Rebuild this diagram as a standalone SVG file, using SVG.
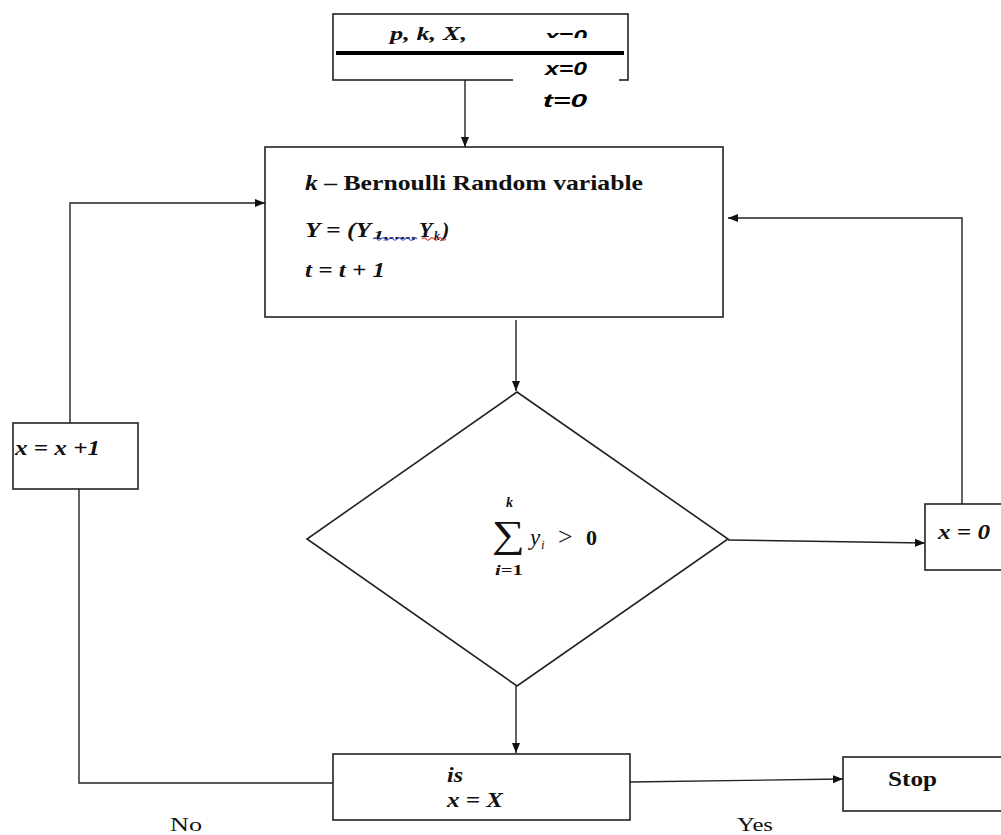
<svg xmlns="http://www.w3.org/2000/svg" width="1001" height="835" viewBox="0 0 1001 835">
<style>
.box{fill:#fff;stroke:#222;stroke-width:1.6}
.ln{fill:none;stroke:#222;stroke-width:1.4}
.ser{font-family:"Liberation Serif",serif;fill:#111}
.sb{font-family:"Liberation Serif",serif;font-weight:bold;fill:#111}
.sbi{font-family:"Liberation Serif",serif;font-weight:bold;font-style:italic;fill:#111}
.cal{font-family:"Liberation Sans",sans-serif;font-weight:bold;font-style:italic;fill:#000}
</style>
<defs>
<marker id="ah" viewBox="0 0 10 10" refX="10" refY="5" markerWidth="10" markerHeight="10" markerUnits="userSpaceOnUse" orient="auto">
<path d="M0,1 L10,5 L0,9 Z" fill="#111"/>
</marker>
<clipPath id="topclip"><rect x="500" y="20" width="120" height="18"/></clipPath>
</defs>
<rect width="1001" height="835" fill="#fff"/>

<g id="connectors">
<path class="ln" d="M465,80 V147" marker-end="url(#ah)"/>
<path class="ln" d="M516,320 V391" marker-end="url(#ah)"/>
<path class="ln" d="M516,686 V753" marker-end="url(#ah)"/>
<path class="ln" d="M728,540 L925,543" marker-end="url(#ah)"/>
<path class="ln" d="M962,504 V218 H728" marker-end="url(#ah)"/>
<path class="ln" d="M70,423 V203 H265" marker-end="url(#ah)"/>
<path class="ln" d="M79,489 V783 H333"/>
<path class="ln" d="M630,782 L843,779" marker-end="url(#ah)"/>
<text class="ser" x="170" y="831" font-size="18" textLength="32" lengthAdjust="spacingAndGlyphs">No</text>
<text class="ser" x="737" y="831" font-size="18" textLength="36" lengthAdjust="spacingAndGlyphs">Yes</text>
</g>

<g id="start">
<rect class="box" x="333" y="14" width="295" height="66"/>
<line x1="336" y1="53" x2="624" y2="53" stroke="#000" stroke-width="4"/>
<text class="sbi" x="390" y="40" font-size="18" textLength="77" lengthAdjust="spacingAndGlyphs">p, k, X,</text>
<text class="cal" x="545" y="43" font-size="19" textLength="42" lengthAdjust="spacingAndGlyphs" clip-path="url(#topclip)">x=0</text>
<rect x="513" y="78" width="106" height="4" fill="#fff"/>
<text class="cal" x="545" y="75" font-size="19" textLength="42" lengthAdjust="spacingAndGlyphs">x=0</text>
<text class="cal" x="543" y="107" font-size="19" textLength="44" lengthAdjust="spacingAndGlyphs">t=0</text>
</g>

<g id="process">
<rect class="box" x="265" y="147" width="458" height="170"/>
<text class="sb" x="305" y="190" font-size="22" textLength="338" lengthAdjust="spacingAndGlyphs"><tspan font-style="italic">k</tspan> – Bernoulli Random variable</text>
<text class="sbi" x="305" y="237" font-size="22" textLength="66" lengthAdjust="spacingAndGlyphs">Y = (Y</text>
<text class="sbi" x="373" y="239" font-size="12" textLength="44" lengthAdjust="spacingAndGlyphs">1,....,</text>
<text class="sbi" x="419" y="237" font-size="22">Y</text>
<text class="sbi" x="434" y="240" font-size="12">k</text>
<text class="sbi" x="442" y="237" font-size="22">)</text>
<path d="M373,239 q2,-2.4 4,0 t4,0 t4,0 t4,0 t4,0 t4,0 t4,0 t4,0 t4,0 t4,0 t4,0" fill="none" stroke="#2a45d6" stroke-width="1.1"/>
<path d="M422,239 q2,-2.4 4,0 t4,0 t4,0 t4,0 t4,0 t4,0" fill="none" stroke="#d82020" stroke-width="1.1"/>
<text class="sbi" x="305" y="277" font-size="22" textLength="80" lengthAdjust="spacingAndGlyphs">t = t + 1</text>
</g>

<g id="decision">
<polygon class="box" points="517,392 728,539 517,686 307,539"/>
<text class="ser" x="492" y="547" font-size="38" textLength="33" lengthAdjust="spacingAndGlyphs">∑</text>
<text class="sbi" x="506" y="507" font-size="14">k</text>
<text class="sb" x="495" y="575" font-size="14" textLength="28" lengthAdjust="spacingAndGlyphs"><tspan font-style="italic">i</tspan>=1</text>
<text class="ser" x="530" y="545" font-size="23" font-style="italic">y</text>
<text class="ser" x="541" y="549" font-size="13" font-style="italic">i</text>
<text class="ser" x="558" y="545" font-size="26">&gt;</text>
<text class="sb" x="586" y="545" font-size="22">0</text>
</g>

<g id="reset">
<rect class="box" x="925" y="504" width="90" height="66"/>
<text class="sbi" x="938" y="539" font-size="20" textLength="52" lengthAdjust="spacingAndGlyphs">x = 0</text>
</g>

<g id="increment">
<rect class="box" x="13" y="423" width="125" height="66"/>
<text class="sbi" x="15" y="455" font-size="21" textLength="85" lengthAdjust="spacingAndGlyphs">x = x +1</text>
</g>

<g id="check">
<rect class="box" x="333" y="754" width="297" height="66"/>
<text class="sbi" x="447" y="782" font-size="20" textLength="16" lengthAdjust="spacingAndGlyphs">is</text>
<text class="sbi" x="447" y="807" font-size="20" textLength="56" lengthAdjust="spacingAndGlyphs">x = X</text>
</g>

<g id="stop">
<rect class="box" x="843" y="757" width="170" height="54"/>
<text class="sb" x="888" y="786" font-size="21" textLength="49" lengthAdjust="spacingAndGlyphs">Stop</text>
</g>
</svg>
